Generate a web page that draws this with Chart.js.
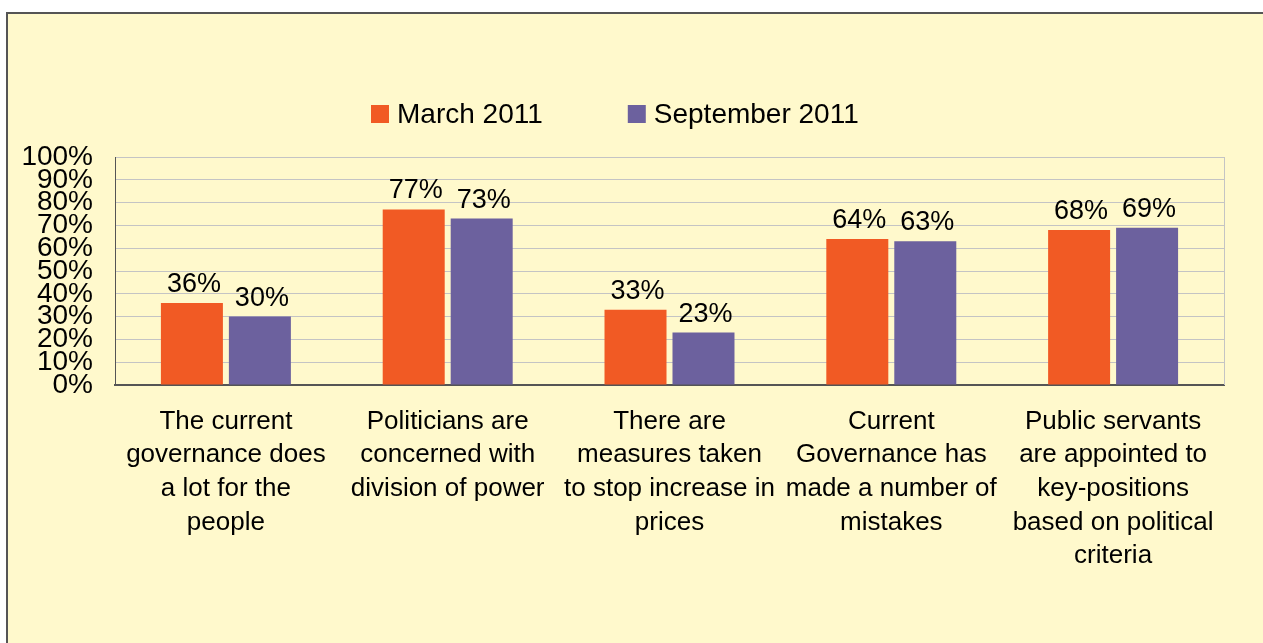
<!DOCTYPE html>
<html>
<head>
<meta charset="utf-8">
<script src="https://cdn.jsdelivr.net/npm/chart.js@4"></script>
<style>
  html, body { margin: 0; padding: 0; background: #fff; }
  body { width: 1263px; height: 643px; position: relative; overflow: hidden; }
  #frame {
    position: absolute; left: 6px; top: 12px; width: 1300px; height: 700px;
    background: #FFF9CC;
    border-top: 2px solid #555;
    border-left: 2px solid #555;
  }
  #chart { position: absolute; left: 0; top: 0; }
</style>
</head>
<body>
<div id="frame"></div>
<canvas id="chart" width="1263" height="643"></canvas>
<script>
// data
const categories = [
  ['The current', 'governance does', 'a lot for the', 'people'],
  ['Politicians are', 'concerned with', 'division of power'],
  ['There are', 'measures taken', 'to stop increase in', 'prices'],
  ['Current', 'Governance has', 'made a number of', 'mistakes'],
  ['Public servants', 'are appointed to', 'key-positions', 'based on political', 'criteria']
];
const march2011 = [36, 77, 33, 64, 68];
const september2011 = [30, 73, 23, 63, 69];
const seriesNames = ['March 2011', 'September 2011'];
const seriesColors = ['#F15A24', '#6C619E'];

const FONT = 'Liberation Sans, Arial, sans-serif';

// bar value labels + plot area right border
const valueLabels = {
  id: 'valueLabels',
  afterDatasetsDraw(chart) {
    const ctx = chart.ctx;
    const area = chart.chartArea;
    ctx.save();
    ctx.strokeStyle = '#C4C4C4';
    ctx.lineWidth = 1;
    ctx.beginPath();
    ctx.moveTo(area.right + 0.5, area.top);
    ctx.lineTo(area.right + 0.5, area.bottom);
    ctx.stroke();

    ctx.font = '27px ' + FONT;
    ctx.fillStyle = '#000';
    ctx.textAlign = 'center';
    ctx.textBaseline = 'alphabetic';
    chart.data.datasets.forEach((ds, i) => {
      chart.getDatasetMeta(i).data.forEach((bar, j) => {
        ctx.fillText(ds.data[j] + '%', bar.x + 2, bar.y - 11);
      });
    });
    ctx.restore();
  }
};

// legend drawn like the original (small square + label)
const squareLegend = {
  id: 'squareLegend',
  afterDraw(chart) {
    const ctx = chart.ctx;
    ctx.save();
    ctx.font = '28px ' + FONT;
    ctx.textBaseline = 'middle';
    ctx.textAlign = 'left';
    let x = 371;
    const y = 114;
    chart.data.datasets.forEach(ds => {
      ctx.fillStyle = ds.backgroundColor;
      ctx.fillRect(x, y - 9, 18, 18);
      ctx.fillStyle = '#000';
      ctx.fillText(ds.label, x + 26, y + 1);
      x += 26 + ctx.measureText(ds.label).width + 85;
    });
    ctx.restore();
  }
};

new Chart(document.getElementById('chart'), {
  type: 'bar',
  data: {
    labels: categories,
    datasets: [
      {
        label: seriesNames[0],
        data: march2011,
        backgroundColor: seriesColors[0],
        barPercentage: 0.912,
        categoryPercentage: 0.613
      },
      {
        label: seriesNames[1],
        data: september2011,
        backgroundColor: seriesColors[1],
        barPercentage: 0.912,
        categoryPercentage: 0.613
      }
    ]
  },
  options: {
    responsive: false,
    animation: false,
    layout: { padding: { left: 0, right: 39, top: 157, bottom: 0 } },
    plugins: {
      legend: { display: false },
      tooltip: { enabled: false }
    },
    scales: {
      x: {
        grid: { display: false, drawTicks: false },
        border: { color: '#555', width: 2 },
        ticks: {
          color: '#000',
          padding: 20,
          maxRotation: 0,
          autoSkip: false,
          font: { family: FONT, size: 26, lineHeight: 1.29 }
        },
        afterFit: s => { s.height = 258; }
      },
      y: {
        min: 0,
        max: 100,
        grid: { color: '#C4C4C4', drawTicks: false },
        border: { color: '#555', width: 1 },
        ticks: {
          stepSize: 10,
          autoSkip: false,
          color: '#000',
          padding: 22,
          font: { family: FONT, size: 28, lineHeight: 1 },
          callback: v => v + '%'
        },
        afterFit: s => { s.width = 115; }
      }
    }
  },
  plugins: [valueLabels, squareLegend]
});
</script>
</body>
</html>
